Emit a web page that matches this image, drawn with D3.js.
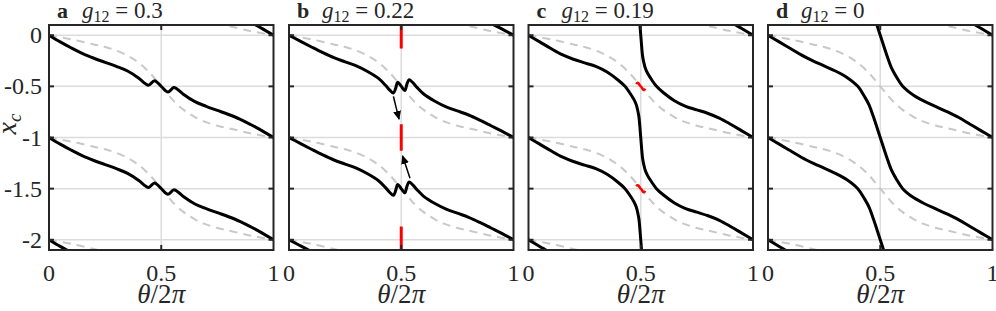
<!DOCTYPE html>
<html>
<head>
<meta charset="utf-8">
<script src="https://cdn.jsdelivr.net/npm/d3@7"></script>
<style>
  body { margin: 0; background: #fff; }
  svg { display: block; }
  text { font-family: "Liberation Serif", "Times New Roman", serif; fill: #262626; }
</style>
</head>
<body>
<svg id="chart" width="996" height="311"></svg>
<script>
// datos
var panelLetters = ["a", "b", "c", "d"];
var g12Values = ["0.3", "0.22", "0.19", "0"];

var xTicks = [0, 0.5, 1];
var xTickLabels = ["0", "0.5", "1"];
var yTicks = [0, -0.5, -1, -1.5, -2];
var yTickLabels = ["0", "-0.5", "-1", "-1.5", "-2"];

// dashed grey reference curve, same in every panel
var thetaRef = [0, 0.1, 0.2, 0.25, 0.3, 0.35, 0.4, 0.45, 0.5, 0.55, 0.6, 0.65, 0.7, 0.75, 0.8, 0.9, 1];
var xcRef = [0, -0.04, -0.09, -0.115, -0.15, -0.2, -0.27, -0.37, -0.5, -0.63, -0.73, -0.8, -0.85, -0.885, -0.91, -0.96, -1];
var refShifts = [1, 0, -1, -2];

// black curves, one period each
var thetaA = [0, 0.05, 0.1, 0.15, 0.2, 0.25, 0.3, 0.35, 0.4, 0.43, 0.445, 0.47, 0.5, 0.53, 0.555, 0.57, 0.6, 0.65, 0.7, 0.75, 0.8, 0.85, 0.9, 0.95, 1];
var xcA = [0, -0.065, -0.125, -0.18, -0.225, -0.265, -0.305, -0.35, -0.42, -0.475, -0.488, -0.445, -0.5, -0.555, -0.512, -0.525, -0.58, -0.65, -0.695, -0.735, -0.775, -0.82, -0.875, -0.935, -1];

var thetaB = [0, 0.05, 0.1, 0.15, 0.2, 0.25, 0.3, 0.35, 0.4, 0.43, 0.45, 0.465, 0.475, 0.484, 0.5, 0.516, 0.525, 0.535, 0.55, 0.57, 0.6, 0.65, 0.7, 0.75, 0.8, 0.85, 0.9, 0.95, 1];
var xcB = [0, -0.058, -0.115, -0.17, -0.22, -0.26, -0.3, -0.355, -0.425, -0.49, -0.54, -0.565, -0.52, -0.46, -0.5, -0.54, -0.48, -0.435, -0.46, -0.51, -0.575, -0.645, -0.7, -0.74, -0.78, -0.83, -0.885, -0.94, -1];

var thetaC = [0, 0.05, 0.1, 0.15, 0.2, 0.25, 0.3, 0.35, 0.4, 0.43, 0.45, 0.47, 0.48, 0.487, 0.492, 0.5, 0.508, 0.513, 0.52, 0.53, 0.55, 0.57, 0.6, 0.65, 0.7, 0.75, 0.8, 0.85, 0.9, 0.95, 1];
var xcC = [0, -0.065, -0.13, -0.19, -0.235, -0.27, -0.305, -0.36, -0.44, -0.5, -0.56, -0.63, -0.68, -0.74, -0.8, -1, -1.2, -1.26, -1.32, -1.37, -1.44, -1.5, -1.56, -1.64, -1.695, -1.73, -1.765, -1.81, -1.87, -1.935, -2];

var thetaD = [0, 0.05, 0.1, 0.15, 0.2, 0.25, 0.3, 0.35, 0.4, 0.43, 0.45, 0.47, 0.5, 0.53, 0.55, 0.57, 0.6, 0.65, 0.7, 0.75, 0.8, 0.85, 0.9, 0.95, 1];
var xcD = [0, -0.065, -0.13, -0.195, -0.25, -0.3, -0.35, -0.41, -0.5, -0.6, -0.68, -0.8, -1, -1.2, -1.32, -1.4, -1.5, -1.59, -1.65, -1.7, -1.75, -1.805, -1.87, -1.935, -2];

var curveThetas = [thetaA, thetaB, thetaC, thetaD];
var curveValues = [xcA, xcB, xcC, xcD];
var curveShifts = [[1, 0, -1, -2], [1, 0, -1, -2], [2, 1, 0, -1, -2], [2, 1, 0, -1, -2]];

// panel b: red dashes on theta = 0.5 and the two arrows
var redDashCentres = [0, -1, -2];
var redDashHalf = 0.13;
var arrowFrom = [[0.465, -0.598], [0.539, -1.398]];
var arrowTo = [[0.49, -0.82], [0.506, -1.18]];

// panel c: small red squiggles
var thetaSq = [0.48, 0.485, 0.49, 0.497, 0.503, 0.51, 0.515, 0.52];
var xcSq = [-0.478, -0.466, -0.47, -0.494, -0.506, -0.53, -0.534, -0.522];
var squiggleShifts = [0, -1];

// layout
var lefts = [49, 289, 528.5, 768],
    plotW = 224.5,
    plotTop = 25,
    plotH = 225;

var svg = d3.select("#chart");

var y = d3.scaleLinear().domain([-2.1, 0.1]).range([plotTop + plotH, plotTop]);

var defs = svg.append("defs");
defs.append("marker")
  .attr("id", "head")
  .attr("markerUnits", "userSpaceOnUse")
  .attr("markerWidth", 9)
  .attr("markerHeight", 8)
  .attr("refX", 8)
  .attr("refY", 4)
  .attr("orient", "auto")
  .append("path")
    .attr("d", "M0,0 L9,4 L0,8 Z")
    .attr("fill", "#000");

lefts.forEach(function(left, p) {
  var x = d3.scaleLinear().domain([0, 1]).range([left, left + plotW]);

  defs.append("clipPath")
    .attr("id", "clip" + p)
    .append("rect")
      .attr("x", left).attr("y", plotTop)
      .attr("width", plotW).attr("height", plotH);

  var g = svg.append("g");

  // grid
  g.selectAll(".gy").data(yTicks).enter().append("line")
    .attr("x1", left).attr("x2", left + plotW)
    .attr("y1", function(d) { return y(d); })
    .attr("y2", function(d) { return y(d); })
    .attr("stroke", "#dcdcdc").attr("stroke-width", 1.5);
  g.selectAll(".gx").data(xTicks.slice(1, 2)).enter().append("line")
    .attr("x1", function(d) { return x(d); })
    .attr("x2", function(d) { return x(d); })
    .attr("y1", plotTop).attr("y2", plotTop + plotH)
    .attr("stroke", "#dcdcdc").attr("stroke-width", 1.5);

  var plot = g.append("g").attr("clip-path", "url(#clip" + p + ")");

  var line = d3.line()
    .x(function(d) { return x(d[0]); })
    .y(function(d) { return y(d[1]); })
    .curve(d3.curveCatmullRom);

  // dashed grey reference
  refShifts.forEach(function(s) {
    plot.append("path")
      .datum(thetaRef.map(function(t, i) { return [t, xcRef[i] + s]; }))
      .attr("d", line)
      .attr("fill", "none")
      .attr("stroke", "#c8c8c8")
      .attr("stroke-width", 2)
      .attr("stroke-dasharray", "8,6");
  });

  // red dashes in b
  if (p === 1) {
    plot.selectAll(".red").data(redDashCentres).enter().append("line")
      .attr("x1", x(0.5)).attr("x2", x(0.5))
      .attr("y1", function(d) { return y(d + redDashHalf); })
      .attr("y2", function(d) { return y(d - redDashHalf); })
      .attr("stroke", "#ff0000").attr("stroke-width", 3);
  }

  // black curves
  var th = curveThetas[p], xc = curveValues[p];
  curveShifts[p].forEach(function(s) {
    plot.append("path")
      .datum(th.map(function(t, i) { return [t, xc[i] + s]; }))
      .attr("d", line)
      .attr("fill", "none")
      .attr("stroke", "#000")
      .attr("stroke-width", 3)
      .attr("stroke-linejoin", "round");
  });

  if (p === 1) {
    arrowFrom.forEach(function(a, i) {
      plot.append("line")
        .attr("x1", x(a[0])).attr("y1", y(a[1]))
        .attr("x2", x(arrowTo[i][0])).attr("y2", y(arrowTo[i][1]))
        .attr("stroke", "#000").attr("stroke-width", 1.5)
        .attr("marker-end", "url(#head)");
    });
  }

  if (p === 2) {
    squiggleShifts.forEach(function(s) {
      plot.append("path")
        .datum(thetaSq.map(function(t, i) { return [t, xcSq[i] + s]; }))
        .attr("d", line)
        .attr("fill", "none")
        .attr("stroke", "#ff0000")
        .attr("stroke-width", 2.5)
        .attr("stroke-linejoin", "round");
    });
  }

  // box and inward ticks
  g.append("rect")
    .attr("x", left).attr("y", plotTop)
    .attr("width", plotW).attr("height", plotH)
    .attr("fill", "none").attr("stroke", "#262626").attr("stroke-width", 2);

  yTicks.forEach(function(d) {
    g.append("line").attr("x1", left).attr("x2", left + 5)
      .attr("y1", y(d)).attr("y2", y(d)).attr("stroke", "#262626").attr("stroke-width", 2);
    g.append("line").attr("x1", left + plotW - 5).attr("x2", left + plotW)
      .attr("y1", y(d)).attr("y2", y(d)).attr("stroke", "#262626").attr("stroke-width", 2);
  });
  [0.5].forEach(function(d) {
    g.append("line").attr("x1", x(d)).attr("x2", x(d))
      .attr("y1", plotTop).attr("y2", plotTop + 5).attr("stroke", "#262626").attr("stroke-width", 2);
    g.append("line").attr("x1", x(d)).attr("x2", x(d))
      .attr("y1", plotTop + plotH - 5).attr("y2", plotTop + plotH).attr("stroke", "#262626").attr("stroke-width", 2);
  });

  // x tick labels
  g.selectAll(".xt").data(xTicks).enter().append("text")
    .attr("x", function(d) { return x(d); })
    .attr("y", 281)
    .attr("text-anchor", "middle")
    .style("font-size", "24px")
    .text(function(d, i) { return xTickLabels[i]; });

  // x label
  var xl = g.append("text")
    .attr("x", x(0.5)).attr("y", 303)
    .attr("text-anchor", "middle")
    .style("font-size", "27px");
  xl.append("tspan").style("font-style", "italic").text("θ");
  xl.append("tspan").text("/2");
  xl.append("tspan").style("font-style", "italic").text("π");

  // title
  g.append("text")
    .attr("x", left + 8).attr("y", 18)
    .style("font-size", "22px").style("font-weight", "bold")
    .text(panelLetters[p]);
  var tt = g.append("text")
    .attr("x", left + 33).attr("y", 18)
    .style("font-size", "23px");
  tt.append("tspan").style("font-style", "italic").text("g");
  tt.append("tspan").attr("dy", 4).style("font-size", "16px").text("12");
  tt.append("tspan").attr("dy", -4).text(" = " + g12Values[p]);

  // y tick labels only on first panel
  if (p === 0) {
    g.selectAll(".yt").data(yTicks).enter().append("text")
      .attr("x", left - 7)
      .attr("y", function(d) { return y(d) + 8; })
      .attr("text-anchor", "end")
      .style("font-size", "24px")
      .text(function(d, i) { return yTickLabels[i]; });

    var yl = g.append("text")
      .attr("transform", "translate(16,124) rotate(-90)")
      .attr("text-anchor", "middle")
      .style("font-size", "28px")
      .style("font-style", "italic");
    yl.append("tspan").text("x");
    yl.append("tspan").attr("dy", 5).style("font-size", "19px").text("c");
  }
});
</script>
</body>
</html>
